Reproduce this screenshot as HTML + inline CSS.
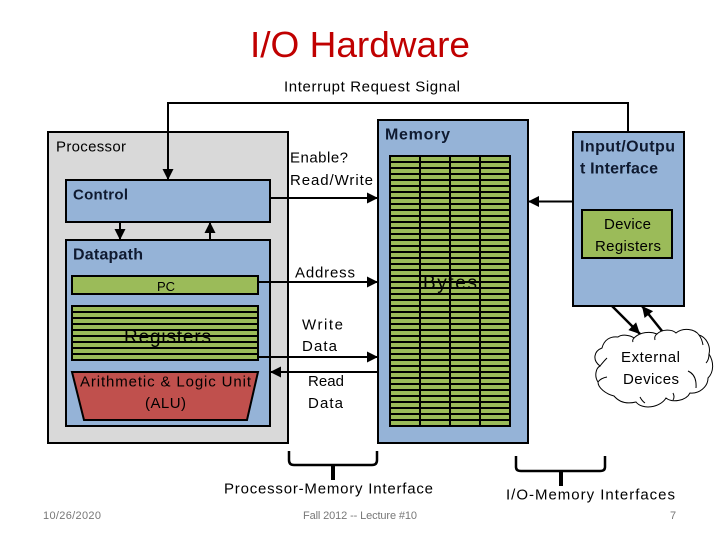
<!DOCTYPE html>
<html><head><meta charset="utf-8"><style>
html,body{margin:0;padding:0;background:#fff;width:720px;height:540px;overflow:hidden}
svg{display:block}
text{font-family:"Liberation Sans",sans-serif;fill:#000}
</style></head><body>
<svg width="720" height="540" viewBox="0 0 720 540" xmlns="http://www.w3.org/2000/svg">
<defs>
<marker id="a" viewBox="0 0 10 10" refX="10" refY="5" markerWidth="11" markerHeight="11" markerUnits="userSpaceOnUse" orient="auto"><path d="M0 0L10 5L0 10Z" fill="#000"/></marker>
<pattern id="reg" x="72" y="305" width="10" height="6" patternUnits="userSpaceOnUse"><rect width="10" height="6" fill="#9bbb59"/><rect width="10" height="2" fill="#000"/></pattern>
<pattern id="mem" x="390" y="155" width="10" height="6" patternUnits="userSpaceOnUse"><rect width="10" height="6" fill="#9bbb59"/><rect width="10" height="2" fill="#000"/></pattern>
</defs>
<rect width="720" height="540" fill="#fff"/>
<text x="250" y="57" font-size="36" textLength="220" lengthAdjust="spacingAndGlyphs" style="fill:#c00000">I/O Hardware</text>
<text x="284" y="91.500" font-size="15" textLength="176">Interrupt Request Signal</text>

<rect x="48" y="132" width="240" height="311" fill="#d9d9d9" stroke="#000" stroke-width="2"/>
<text x="56" y="151.500" font-size="15" textLength="70">Processor</text>
<rect x="66" y="180" width="204" height="42" fill="#95b3d7" stroke="#000" stroke-width="2"/>
<text x="73" y="199.500" font-size="15" font-weight="bold" textLength="55" style="fill:#0f1a30">Control</text>
<rect x="66" y="240" width="204" height="186" fill="#95b3d7" stroke="#000" stroke-width="2"/>
<text x="73" y="259.500" font-size="16" font-weight="bold" textLength="70" style="fill:#0f1a30">Datapath</text>
<rect x="72" y="276" width="186" height="18" fill="#9bbb59" stroke="#000" stroke-width="2"/>
<text x="157" y="291" font-size="13">PC</text>
<rect x="72" y="306" width="186" height="54" fill="url(#reg)" stroke="#000" stroke-width="2"/>
<text x="124" y="343" font-size="19" textLength="87">Registers</text>
<polygon points="72,372 258,372 247,420 84,420" fill="#c0504d" stroke="#000" stroke-width="2"/>
<text x="80" y="386.500" font-size="15" textLength="171">Arithmetic &amp; Logic Unit</text>
<text x="145" y="408" font-size="15" textLength="41">(ALU)</text>

<rect x="378" y="120" width="150" height="323" fill="#95b3d7" stroke="#000" stroke-width="2"/>
<text x="385" y="139.500" font-size="16" font-weight="bold" textLength="65" style="fill:#0f1a30">Memory</text>
<rect x="390" y="156" width="120" height="270" fill="url(#mem)" stroke="#000" stroke-width="2"/>
<path d="M420 156V426M450 156V426M480 156V426" stroke="#000" stroke-width="2" fill="none"/>
<text x="423" y="289" font-size="19" textLength="54">Bytes</text>

<rect x="573" y="132" width="111" height="174" fill="#95b3d7" stroke="#000" stroke-width="2"/>
<text x="580" y="151.500" font-size="16" font-weight="bold" textLength="95" style="fill:#0f1a30">Input/Outpu</text>
<text x="580" y="173.500" font-size="16" font-weight="bold" textLength="78" style="fill:#0f1a30">t Interface</text>
<rect x="582" y="210" width="90" height="48" fill="#9bbb59" stroke="#000" stroke-width="2"/>
<text x="604" y="229" font-size="15" textLength="47">Device</text>
<text x="595" y="251" font-size="15" textLength="66">Registers</text>

<g stroke="#000" stroke-width="2" fill="none">
<path d="M628 132V103H168V180" marker-end="url(#a)"/>
<path d="M120 222V240" marker-end="url(#a)"/>
<path d="M210 240V222" marker-end="url(#a)"/>
<path d="M270 198H378" marker-end="url(#a)"/>
<path d="M258 282H378" marker-end="url(#a)"/>
<path d="M258 357H378" marker-end="url(#a)"/>
<path d="M378 372H270" marker-end="url(#a)"/>
<path d="M573 201.500H528" marker-end="url(#a)"/>
<path d="M612 306L640 334" stroke-width="2.500" marker-end="url(#a)"/>
<path d="M662 331L642 306" stroke-width="2.500" marker-end="url(#a)"/>
</g>
<text x="290" y="162.500" font-size="15" textLength="58">Enable?</text>
<text x="290" y="185" font-size="15" textLength="83">Read/Write</text>
<text x="295" y="277.500" font-size="15" textLength="60">Address</text>
<text x="302" y="329.500" font-size="15" textLength="41">Write</text>
<text x="302" y="351" font-size="15" textLength="35">Data</text>
<text x="308" y="386" font-size="15" textLength="36">Read</text>
<text x="308" y="408" font-size="15" textLength="35">Data</text>

<path d="M634 338C640 332 650 331 657 334C662 329 672 329 676 333C683 327 695 329 699 335C706 337 711 346 709 354C714 362 714 372 708 378C708 387 699 394 690 393C686 401 672 403 666 398C660 408 642 410 636 402C628 404 620 403 614 396C606 394 598 388 598 382C594 376 596 368 600 366C592 360 594 351 602 348C604 340 610 336 618 337C622 334 630 335 634 338Z" fill="#fff" stroke="#000" stroke-width="1"/>
<path d="M634 338Q632 340 633 342M657 334Q654 336 655 340M699 335Q702 339 703 345M709 354Q709 360 706 363M688 371Q697 375 696 388M673 393Q675 397 673 400M640 397Q642 401 645 403M598 382Q601 378 607 377M600 366Q604 361 607 358" fill="none" stroke="#000" stroke-width="1"/>
<text x="621" y="362" font-size="15" textLength="59">External</text>
<text x="623" y="384" font-size="15" textLength="56">Devices</text>

<g stroke="#000" stroke-width="2.500" fill="none">
<path d="M289 451V460Q289 465 294 465H372Q377 465 377 460V451"/>
<path d="M516 456V467Q516 471 521 471H600Q605 471 605 467V456"/>
</g>
<path d="M333 465V480" stroke="#000" stroke-width="4"/>
<path d="M561 471V486" stroke="#000" stroke-width="4"/>
<text x="224" y="493.500" font-size="15" textLength="209">Processor-Memory Interface</text>
<text x="506" y="499.500" font-size="15" textLength="169">I/O-Memory Interfaces</text>
<text x="43" y="519" font-size="11" textLength="58" style="fill:#777">10/26/2020</text>
<text x="303" y="519" font-size="11" textLength="114" style="fill:#777">Fall 2012 -- Lecture #10</text>
<text x="670" y="519" font-size="11" textLength="6" style="fill:#777">7</text>
</svg>
</body></html>
